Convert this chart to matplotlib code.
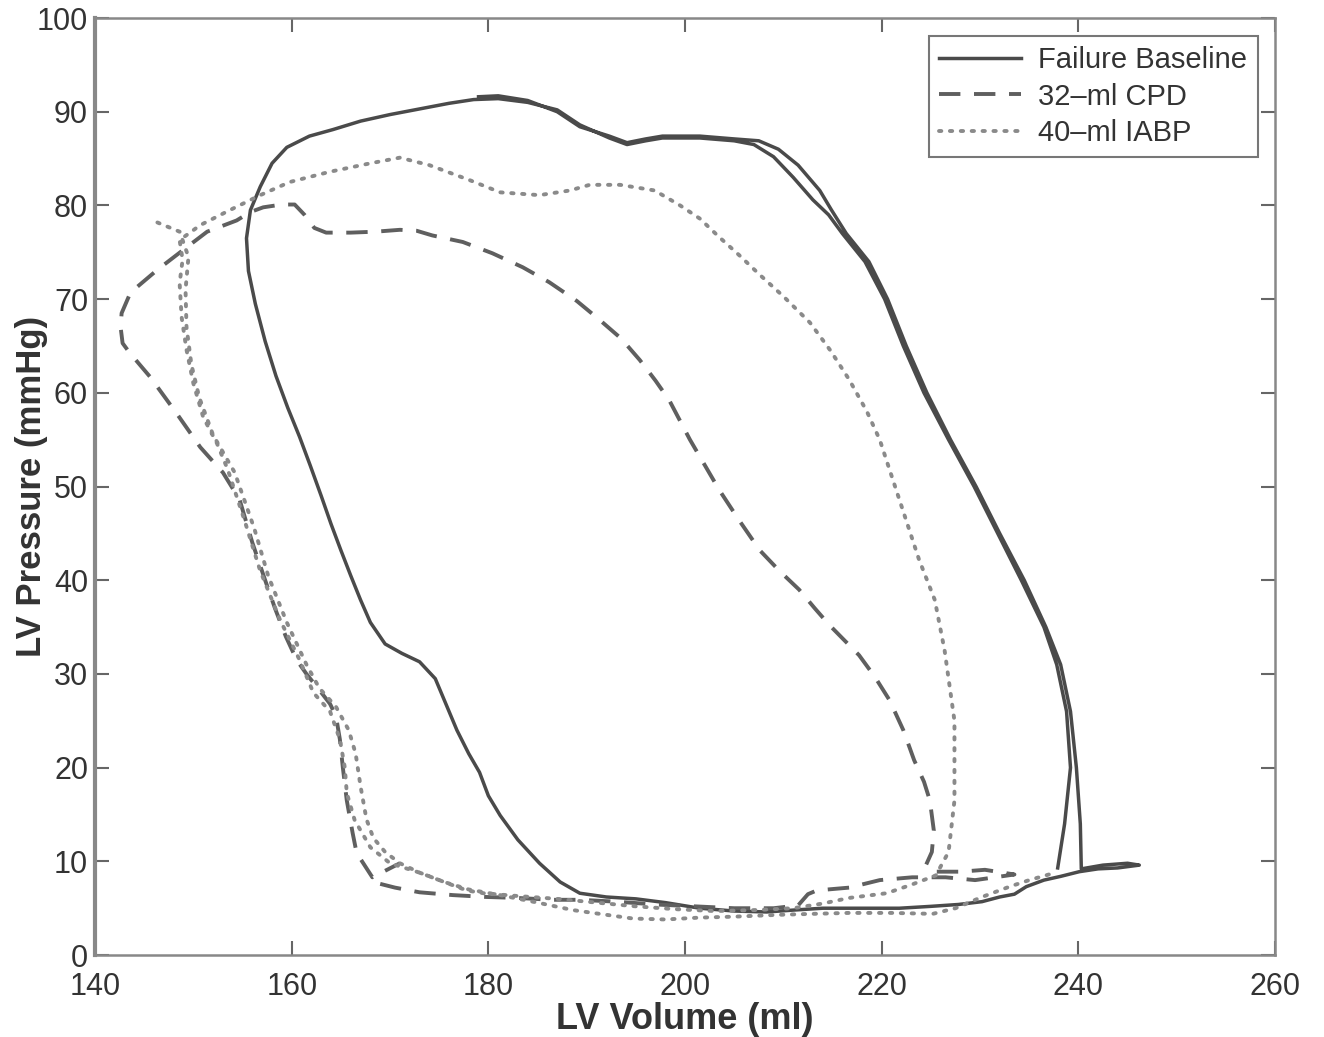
import matplotlib
matplotlib.use("Agg")
import matplotlib.pyplot as plt

plt.rcParams['font.family'] = ['Liberation Sans', 'DejaVu Sans']

# Failure Baseline (solid) - two beats, second one only partly distinct
base_vol = [237.9, 238.6, 239.2, 238.8, 237.8, 236.5, 234.2, 231.8, 229.4, 226.8, 224.3, 222.2,
            220.3, 218.3, 216.0, 214.6, 213.0, 211.0, 209.0, 207.0, 205.0, 201.5, 197.7, 196.0,
            194.1, 192.3, 189.3, 187.0, 184.0, 181.0, 178.5, 176.0, 173.0, 170.0, 167.0, 164.2,
            161.8, 159.5, 158.0, 156.8, 155.8, 155.4, 155.6, 156.3, 157.3, 158.4, 159.6, 160.8,
            161.9, 163.0, 164.0, 165.0, 166.0, 167.0, 168.0, 169.5, 171.2, 173.0, 174.6, 175.6,
            176.8, 178.0, 179.1, 180.0, 181.2, 183.0, 185.2, 187.3, 189.3, 192.0, 195.0, 198.0,
            201.5, 205.0, 208.3, 211.0, 214.0, 218.0, 221.8, 225.0, 227.8, 230.2, 232.0, 233.5,
            234.7, 236.5, 238.2, 240.1, 242.0, 244.0, 246.2, 245.0, 242.5, 240.3, 240.2, 239.8,
            239.2, 238.2, 236.7, 234.5, 232.0, 229.6, 227.0, 224.6, 222.5, 220.6, 218.7, 216.4,
            214.9, 213.7, 211.5, 209.5, 207.5, 205.0, 201.5, 197.7, 196.0, 194.1, 192.3, 189.3,
            187.0, 184.0, 181.0, 179.0]
base_prs = [9.3, 14.0, 20.0, 26.0, 31.0, 35.0, 40.0, 45.0, 50.0, 55.0, 60.0, 65.0,
            70.0, 74.0, 77.0, 79.0, 80.6, 83.0, 85.2, 86.5, 86.9, 87.2, 87.2, 86.9,
            86.5, 87.2, 88.6, 90.2, 91.0, 91.4, 91.3, 90.9, 90.3, 89.7, 89.0, 88.1,
            87.4, 86.2, 84.5, 82.0, 79.5, 76.5, 73.0, 69.5, 65.5, 61.8, 58.4, 55.3,
            52.2, 49.0, 46.0, 43.2, 40.5, 37.9, 35.5, 33.2, 32.2, 31.3, 29.5, 27.0,
            24.0, 21.5, 19.5, 17.0, 14.9, 12.3, 9.8, 7.8, 6.6, 6.2, 6.0, 5.6,
            5.0, 4.7, 4.6, 4.8, 5.0, 5.0, 5.0, 5.2, 5.4, 5.7, 6.2, 6.5,
            7.3, 8.0, 8.4, 8.9, 9.2, 9.3, 9.6, 9.8, 9.6, 9.2, 14.0, 20.0,
            26.0, 31.0, 35.0, 40.0, 45.0, 50.0, 55.0, 60.0, 65.0, 70.0, 74.0, 77.0,
            79.5, 81.6, 84.3, 86.0, 86.9, 87.1, 87.4, 87.4, 87.1, 86.7, 87.4, 88.4,
            90.0, 91.2, 91.7, 91.6]

# 32-ml CPD (dashed)
cpd_vol = [169.0, 170.5, 173.0, 176.4, 179.8, 182.9, 186.5, 189.3, 193.0, 197.0, 201.0, 205.0,
           209.0, 211.5, 212.5, 213.4, 216.7, 219.8, 223.1, 226.5, 229.5, 233.5, 230.5, 228.0,
           225.5, 224.5, 225.1, 225.3, 224.9, 224.3, 223.3, 222.2, 220.8, 219.3, 217.7, 216.2,
           214.7, 213.2, 211.6, 209.6, 207.6, 205.5, 203.5, 202.0, 200.5, 199.5, 198.4, 197.0,
           195.4, 193.5, 191.3, 189.0, 186.2, 183.5, 180.4, 177.4, 174.3, 172.7, 171.0, 168.5,
           166.0, 163.5, 162.3, 161.3, 160.3, 159.0, 157.1, 155.8, 154.4, 151.4, 148.9, 146.3,
           143.6, 142.7, 142.6, 142.8, 143.5, 145.6, 148.3, 150.7, 153.0, 154.7, 156.0, 157.3,
           158.3, 159.4, 160.5, 161.5, 162.8, 163.9, 164.5, 164.9, 165.2, 165.6, 166.2, 166.6,
           168.2, 171.0]
cpd_prs = [7.6, 7.2, 6.7, 6.4, 6.2, 6.1, 5.9, 5.9, 5.7, 5.4, 5.2, 5.0,
           5.0, 5.3, 6.5, 6.9, 7.2, 8.0, 8.3, 8.3, 8.0, 8.6, 9.1, 8.9,
           8.9, 9.6, 11.0, 13.3, 16.5, 18.5, 20.8, 24.0, 27.2, 29.7, 32.0, 33.6,
           35.2, 37.0, 39.0, 41.0, 43.2, 46.4, 49.6, 52.3, 55.0, 57.0, 59.2, 61.3,
           63.5, 65.8, 67.8, 69.8, 71.8, 73.4, 74.9, 76.1, 76.8, 77.3, 77.4, 77.2,
           77.1, 77.1, 77.6, 79.0, 80.1, 80.1, 79.8, 79.3, 78.4, 77.2, 75.2, 73.1,
           70.7, 68.5, 67.0, 65.3, 64.3, 61.7, 57.8, 54.2, 51.5, 48.6, 44.0, 40.0,
           37.0, 34.0, 31.5, 30.0, 28.3, 26.8, 25.5, 23.0, 20.0, 16.5, 13.0, 10.9,
           8.3, 9.8]

# 40-ml IABP (dotted)
iabp_vol = [237.0, 235.0, 233.0, 230.2, 227.5, 225.2, 221.0, 216.7, 213.0, 209.6, 205.0, 201.5,
            198.0, 194.7, 191.3, 188.6, 185.0, 181.2, 178.0, 175.5, 173.0, 170.0, 168.0, 166.4,
            165.6, 165.4, 164.9, 163.9, 162.2, 160.8, 158.8, 156.8, 156.2, 155.2, 153.5, 152.4,
            151.0, 150.0, 149.3, 148.8, 148.6, 148.9, 148.6, 150.7, 153.7, 156.8, 159.8, 163.9,
            168.0, 171.0, 174.0, 178.1, 181.2, 185.2, 188.3, 190.3, 193.4, 196.9, 199.5, 201.5,
            203.5, 205.5, 207.6, 210.0, 212.7, 214.8, 216.7, 218.5, 219.8, 221.8, 223.8, 225.4,
            226.4, 227.4, 227.4, 226.8, 225.5, 223.0, 220.5, 216.7, 214.0, 211.0, 207.0, 203.0,
            199.0, 195.0, 191.0, 187.0, 183.0, 179.5, 177.8, 175.5, 173.0, 171.0, 169.5, 168.3,
            167.6, 167.0, 166.5, 165.8, 164.5, 162.8, 161.5, 159.5, 157.6, 156.2, 154.2, 152.0,
            150.6, 149.8, 149.3, 149.2, 149.5, 148.6, 146.3]
iabp_prs = [8.6, 8.0, 7.3, 6.2, 5.0, 4.4, 4.5, 4.5, 4.4, 4.3, 4.1, 4.0,
            3.8, 3.9, 4.4, 4.8, 5.6, 6.4, 7.0, 7.8, 8.8, 9.8, 11.5, 14.4,
            17.3, 20.0, 23.0, 26.0, 28.0, 31.5, 35.8, 41.0, 43.0, 46.4, 51.8, 54.6,
            57.4, 61.0, 64.6, 68.1, 71.7, 74.2, 76.3, 77.9, 79.5, 81.1, 82.5, 83.6,
            84.5, 85.1, 84.3, 82.7, 81.4, 81.1, 81.6, 82.2, 82.2, 81.6, 80.0, 78.6,
            76.6, 74.7, 72.6, 70.3, 67.5, 64.5, 61.4, 58.0, 55.0, 48.6, 42.2, 37.9,
            32.5, 25.0, 16.5, 11.0, 8.5, 7.5, 6.6, 6.1, 5.5, 5.0, 4.8, 4.7,
            4.9, 5.2, 5.6, 6.0, 6.3, 6.6, 6.9, 7.8, 8.8, 9.8, 11.0, 12.5,
            14.5, 18.0, 21.5, 24.0, 26.5, 28.5, 31.0, 35.5, 40.5, 45.5, 51.5, 55.5,
            59.5, 63.0, 67.0, 71.0, 74.5, 77.2, 78.2]

labels = ['Failure Baseline', '32\u2013ml CPD', '40\u2013ml IABP']
xticks = [140, 160, 180, 200, 220, 240, 260]
yticks = [0, 10, 20, 30, 40, 50, 60, 70, 80, 90, 100]


def main():
    fig = plt.figure(figsize=(13.24, 10.37), dpi=100)
    ax = fig.add_axes([0.0718, 0.079, 0.8912, 0.9036])

    ax.plot(base_vol, base_prs, '-', color='#4a4a4a', lw=2.5, label=labels[0])
    ax.plot(cpd_vol, cpd_prs, color='#5f5f5f', lw=2.8, dashes=(5.5, 3.5), label=labels[1])
    ax.plot(iabp_vol, iabp_prs, color='#8a8a8a', lw=2.8, dashes=(0.6, 2.2),
            dash_capstyle='round', label=labels[2])

    ax.set_xlim(140, 260)
    ax.set_ylim(0, 100)
    ax.set_xticks(xticks)
    ax.set_yticks(yticks)
    ax.tick_params(direction='in', length=10, width=1.5, color='#666666',
                   labelsize=22, labelcolor='#333333', top=True, right=True)
    ax.tick_params(axis='x', pad=12)
    ax.tick_params(axis='y', pad=5)
    for s in ax.spines.values():
        s.set_color('#888888')
        s.set_linewidth(1.8)
    ax.spines['left'].set_linewidth(3)

    ax.set_xlabel('LV Volume (ml)', fontsize=26, fontweight='bold', color='#333333', labelpad=0)
    ax.set_ylabel('LV Pressure (mmHg)', fontsize=25, fontweight='bold', color='#333333')
    ax.yaxis.set_label_coords(-0.04, 0.5)

    leg = ax.legend(loc='upper right', fontsize=21, fancybox=False, framealpha=1,
                    borderaxespad=0.6, handlelength=2.8, labelspacing=0.3,
                    borderpad=0.35, handletextpad=0.6)
    leg.get_frame().set_edgecolor('#777777')
    leg.get_frame().set_linewidth(1.5)
    for t in leg.get_texts():
        t.set_color('#333333')

    fig.savefig('out.png', dpi=100)


if __name__ == '__main__':
    main()
